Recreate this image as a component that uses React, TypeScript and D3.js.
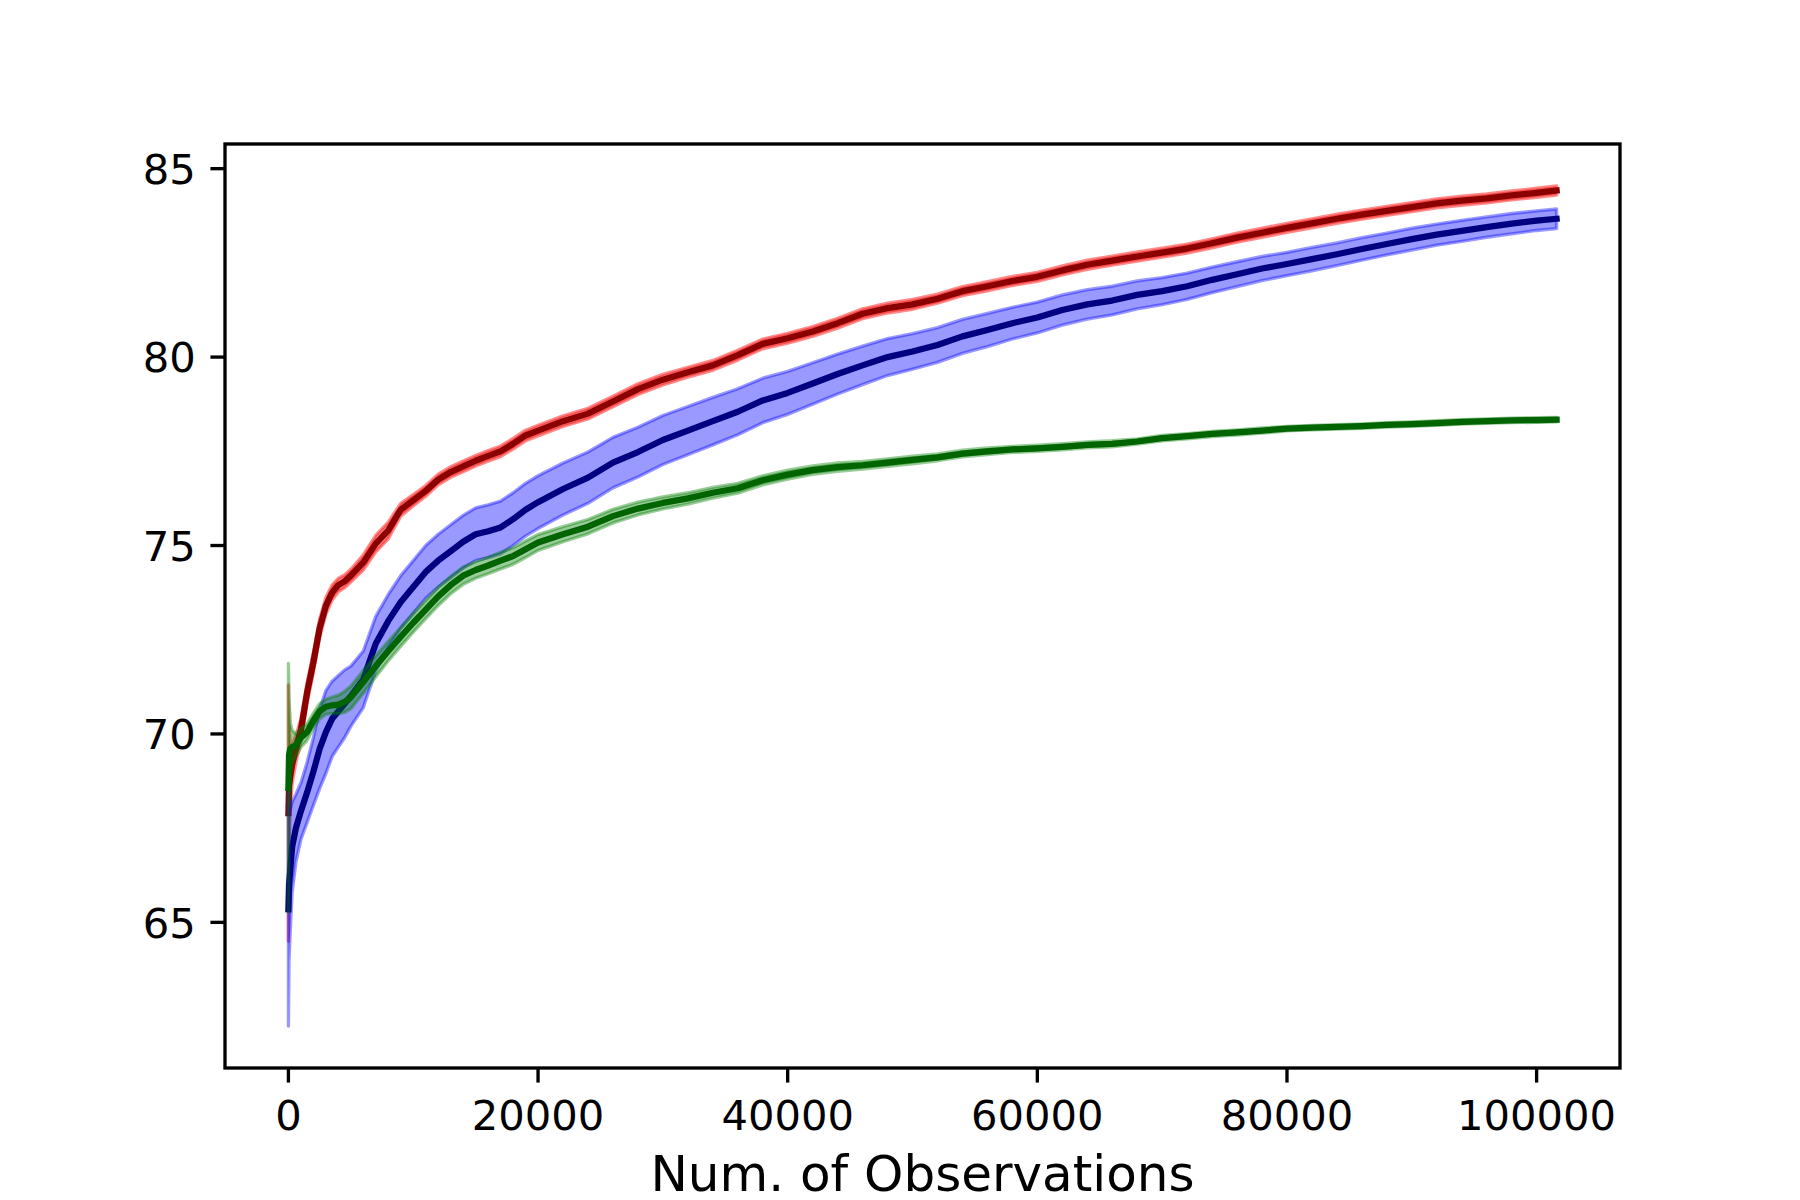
import { useMemo } from 'react';
import * as d3 from 'd3';

// number of observations (x)
const X_OBS = [
  0, 50, 150, 300, 600, 1000, 1500, 2000, 2500, 3000,
  3500, 4000, 4500, 5000, 6000, 7000, 8000, 9000, 10000, 11000,
  12000, 13000, 14000, 15000, 16000, 17000, 18000, 19000, 20000, 22000,
  24000, 26000, 28000, 30000, 32000, 34000, 36000, 38000, 40000, 42000,
  44000, 46000, 48000, 50000, 52000, 54000, 56000, 58000, 60000, 62000,
  64000, 66000, 68000, 70000, 72000, 74000, 76000, 78000, 80000, 82000,
  84000, 86000, 88000, 90000, 92000, 94000, 96000, 98000, 100000, 101600,
];

const RED_MEAN = [
  67.9, 68.6, 68.9, 69.2, 69.6, 70.1, 71.1, 71.9, 72.8, 73.4,
  73.75, 73.95, 74.05, 74.2, 74.55, 75.05, 75.4, 75.95, 76.2, 76.45,
  76.75, 76.95, 77.1, 77.25, 77.38, 77.5, 77.7, 77.92, 78.05, 78.3,
  78.5, 78.82, 79.15, 79.4, 79.6, 79.78, 80.05, 80.35, 80.5, 80.68,
  80.9, 81.15, 81.3, 81.4, 81.55, 81.75, 81.88, 82.02, 82.13, 82.3,
  82.45, 82.56, 82.67, 82.77, 82.88, 83.02, 83.17, 83.3, 83.43, 83.55,
  83.67, 83.78, 83.88, 83.98, 84.08, 84.15, 84.21, 84.29, 84.36, 84.42,
];
const RED_SD = [
  3.4, 1.6, 0.8, 0.5, 0.35, 0.3, 0.27, 0.26, 0.24, 0.22,
  0.2, 0.18, 0.17, 0.17, 0.2, 0.22, 0.22, 0.17, 0.15, 0.14,
  0.14, 0.14, 0.14, 0.14, 0.14, 0.14, 0.14, 0.14, 0.14, 0.14,
  0.14, 0.14, 0.14, 0.14, 0.13, 0.13, 0.13, 0.13, 0.13, 0.13,
  0.13, 0.13, 0.13, 0.13, 0.12, 0.12, 0.12, 0.12, 0.12, 0.12,
  0.12, 0.12, 0.12, 0.12, 0.12, 0.12, 0.12, 0.12, 0.12, 0.12,
  0.12, 0.12, 0.12, 0.12, 0.12, 0.12, 0.12, 0.12, 0.12, 0.12,
];

const BLUE_MEAN = [
  65.35, 66.0, 66.4, 67.0, 67.5, 67.95, 68.45, 69.0, 69.6, 70.05,
  70.4, 70.6, 70.8, 71.0, 71.45, 72.4, 73.0, 73.5, 73.9, 74.3,
  74.6, 74.85, 75.1, 75.3, 75.38, 75.48, 75.7, 75.95, 76.15, 76.5,
  76.8, 77.2, 77.48, 77.8, 78.05, 78.3, 78.55, 78.85, 79.05, 79.3,
  79.55, 79.78, 80.0, 80.15, 80.32, 80.55, 80.72, 80.9, 81.05, 81.25,
  81.4, 81.5, 81.65, 81.75, 81.88, 82.05, 82.2, 82.35, 82.47, 82.6,
  82.73, 82.87, 83.0, 83.13, 83.25, 83.35, 83.45, 83.54, 83.62, 83.67,
];
const BLUE_SD = [
  3.1, 2.0, 1.6, 1.2, 0.9, 0.75, 0.8, 0.9, 1.05, 1.1,
  1.0, 0.95, 0.9, 0.8, 0.75, 0.72, 0.7, 0.7, 0.7, 0.7,
  0.7, 0.7, 0.7, 0.7, 0.7, 0.7, 0.7, 0.7, 0.7, 0.69,
  0.68, 0.67, 0.66, 0.65, 0.64, 0.63, 0.61, 0.59, 0.57, 0.55,
  0.53, 0.51, 0.49, 0.47, 0.46, 0.45, 0.44, 0.42, 0.41, 0.4,
  0.39, 0.38, 0.37, 0.36, 0.35, 0.34, 0.33, 0.32, 0.31, 0.31,
  0.3, 0.3, 0.29, 0.29, 0.28, 0.28, 0.27, 0.27, 0.26, 0.26,
];

const GREEN_MEAN = [
  68.57, 69.45, 69.6, 69.65, 69.7, 69.9, 70.05, 70.35, 70.6, 70.72,
  70.76, 70.78, 70.85, 70.97, 71.38, 71.8, 72.2, 72.58, 72.95, 73.3,
  73.65, 73.95, 74.2, 74.35, 74.47, 74.6, 74.72, 74.9, 75.08, 75.3,
  75.5, 75.78, 75.98, 76.13, 76.25, 76.4, 76.52, 76.73, 76.88, 77.0,
  77.08, 77.13, 77.2, 77.27, 77.34, 77.44, 77.5, 77.55, 77.58, 77.62,
  77.67, 77.7, 77.76, 77.85, 77.9, 77.96, 78.0, 78.05, 78.1, 78.13,
  78.15, 78.17, 78.2, 78.22, 78.25, 78.28, 78.3, 78.32, 78.33, 78.34,
];
const GREEN_SD = [
  3.3, 1.5, 0.7, 0.45, 0.3, 0.25, 0.22, 0.2, 0.2, 0.2,
  0.22, 0.25, 0.28, 0.3, 0.3, 0.28, 0.26, 0.25, 0.25, 0.24,
  0.24, 0.23, 0.23, 0.22, 0.22, 0.22, 0.22, 0.22, 0.21, 0.2,
  0.19, 0.18, 0.17, 0.16, 0.15, 0.14, 0.13, 0.12, 0.12, 0.11,
  0.11, 0.1, 0.1, 0.1, 0.09, 0.09, 0.09, 0.08, 0.08, 0.08,
  0.08, 0.08, 0.07, 0.07, 0.07, 0.07, 0.07, 0.07, 0.06, 0.06,
  0.06, 0.06, 0.06, 0.06, 0.06, 0.06, 0.06, 0.06, 0.06, 0.06,
];

const X_TICKS = [0, 20000, 40000, 60000, 80000, 100000];
const Y_TICKS = [65, 70, 75, 80, 85];
const X_LABEL = 'Num. of Observations';

const SERIES = [
  { key: 'red', mean: RED_MEAN, sd: RED_SD, band: '#ff0000', bandAlpha: 0.45, line: '#8b0000' },
  { key: 'blue', mean: BLUE_MEAN, sd: BLUE_SD, band: '#0000ff', bandAlpha: 0.4, line: '#000080' },
  { key: 'green', mean: GREEN_MEAN, sd: GREEN_SD, band: '#008000', bandAlpha: 0.4, line: '#006400' },
];

const W = 1800;
const H = 1200;
const margin = { left: 225, right: 1620, top: 144, bottom: 1068 };
const FONT = '"DejaVu Sans", sans-serif';
const PT = 300 / 72;

// matplotlib-style 5% autoscale margin
function padded([lo, hi]: [number, number]): [number, number] {
  const p = (hi - lo) * 0.05;
  return [lo - p, hi + p];
}

export default function App() {
  const { x, y, bands, lines } = useMemo(() => {
    const xExt = d3.extent(X_OBS) as [number, number];
    const lows = SERIES.flatMap((s) => s.mean.map((m, i) => m - s.sd[i]));
    const highs = SERIES.flatMap((s) => s.mean.map((m, i) => m + s.sd[i]));
    const x = d3.scaleLinear().domain(padded(xExt)).range([margin.left, margin.right]);
    const y = d3
      .scaleLinear()
      .domain(padded([d3.min(lows)!, d3.max(highs)!]))
      .range([margin.bottom, margin.top]);

    const bands = SERIES.map(
      (s) =>
        d3
          .area<number>()
          .x((_, i) => x(X_OBS[i]))
          .y0((m, i) => y(m - s.sd[i]))
          .y1((m, i) => y(m + s.sd[i]))(s.mean) ?? '',
    );
    const line = d3
      .line<number>()
      .x((_, i) => x(X_OBS[i]))
      .y((d) => y(d));
    const lines = SERIES.map((s) => line(s.mean) ?? '');
    return { x, y, bands, lines };
  }, []);

  const spine = 0.8 * PT;
  const tickLen = 3.5 * PT;
  const tickFont = 10 * PT;

  return (
    <svg
      width={W}
      height={H}
      viewBox={`0 0 ${W} ${H}`}
      style={{ position: 'absolute', left: 0, top: 0, background: '#fff' }}
    >
      <rect x={0} y={0} width={W} height={H} fill="#fff" />
      {SERIES.map((s, i) => (
        <g key={s.key}>
          <path
            d={bands[i]}
            fill={s.band}
            fillOpacity={s.bandAlpha}
            stroke={s.band}
            strokeOpacity={s.bandAlpha}
            strokeWidth={0.8 * PT}
            strokeLinejoin="round"
          />
          <path
            d={lines[i]}
            fill="none"
            stroke={s.line}
            strokeWidth={1.5 * PT}
            strokeLinejoin="round"
            strokeLinecap="square"
          />
        </g>
      ))}

      {/* spines */}
      <rect
        x={margin.left}
        y={margin.top}
        width={margin.right - margin.left}
        height={margin.bottom - margin.top}
        fill="none"
        stroke="#000"
        strokeWidth={spine}
      />

      {X_TICKS.map((t) => (
        <g key={`x${t}`}>
          <line x1={x(t)} x2={x(t)} y1={margin.bottom} y2={margin.bottom + tickLen} stroke="#000" strokeWidth={spine} />
          <text x={x(t)} y={1130} textAnchor="middle" fontFamily={FONT} fontSize={tickFont} fill="#000">
            {t}
          </text>
        </g>
      ))}
      {Y_TICKS.map((t) => (
        <g key={`y${t}`}>
          <line x1={margin.left - tickLen} x2={margin.left} y1={y(t)} y2={y(t)} stroke="#000" strokeWidth={spine} />
          <text
            x={margin.left - tickLen - 3.5 * PT}
            y={y(t) + 15.2}
            textAnchor="end"
            fontFamily={FONT}
            fontSize={tickFont}
            fill="#000"
          >
            {t}
          </text>
        </g>
      ))}

      <text
        x={(margin.left + margin.right) / 2}
        y={1191}
        textAnchor="middle"
        fontFamily={FONT}
        fontSize={12 * PT}
        fill="#000"
      >
        {X_LABEL}
      </text>
    </svg>
  );
}
